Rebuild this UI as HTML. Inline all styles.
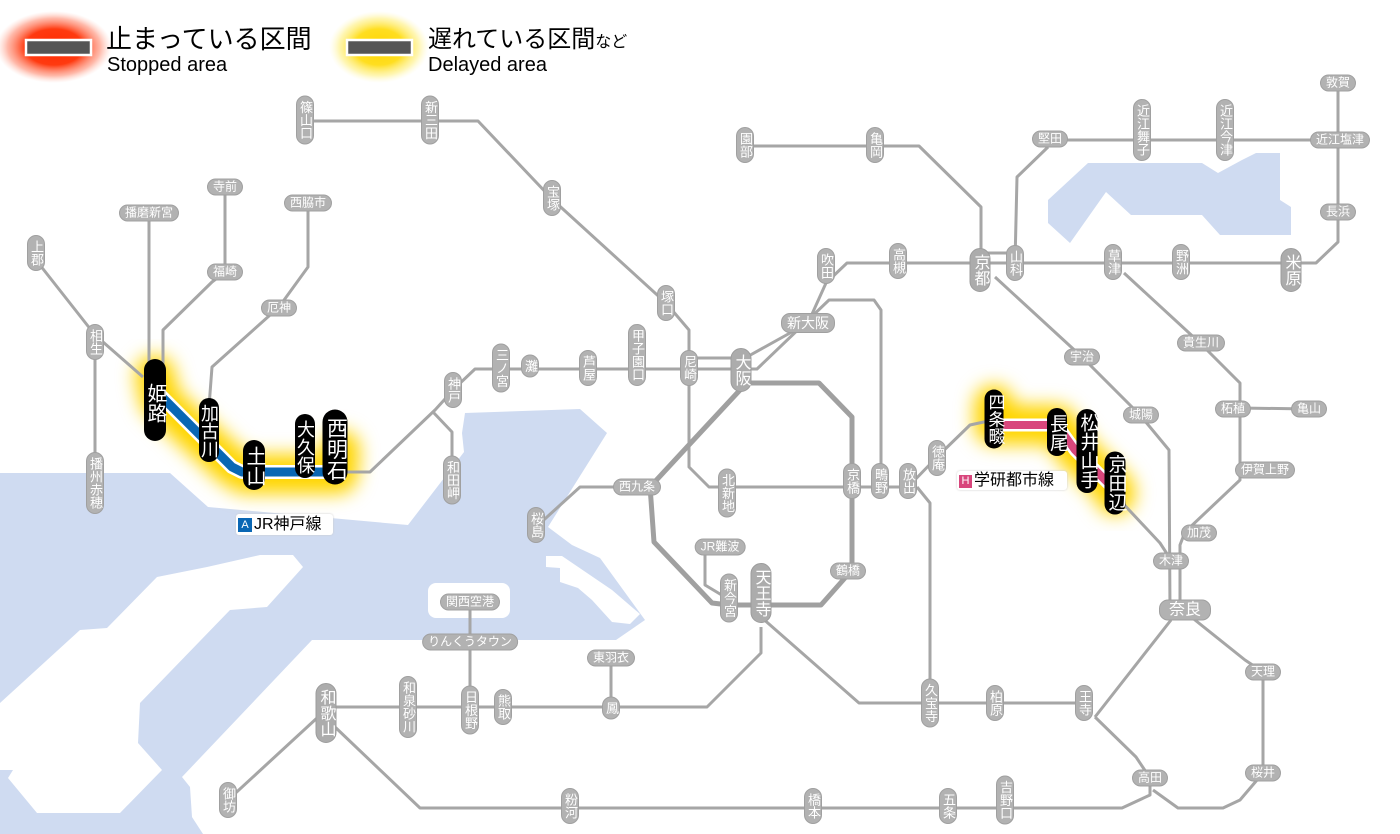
<!DOCTYPE html>
<html><head><meta charset="utf-8">
<style>
body{margin:0;background:#fff;}
#c{position:relative;width:1400px;height:834px;overflow:hidden;background:#fff;font-family:"Liberation Sans","Noto Sans CJK JP",sans-serif;}
svg{position:absolute;left:0;top:0;}
.v,.h,.b,.V{position:absolute;transform:translate(-50%,-50%);color:#fff;white-space:nowrap;}
.v{writing-mode:vertical-rl;background:#b2b2b2;border:1px solid #a0a0a0;border-radius:9px;font-size:13px;line-height:16px;padding:4px 0;width:16px;text-align:center;letter-spacing:0px;}
.V{writing-mode:vertical-rl;background:#acacac;border:1px solid #9c9c9c;border-radius:11px;font-size:16px;line-height:19px;padding:5px 0;width:19px;}
.h{background:#b2b2b2;border:1px solid #a0a0a0;border-radius:9px;font-size:12px;line-height:15px;padding:0 5px;}
.b{writing-mode:vertical-rl;background:#000;border-radius:13px;font-size:20px;line-height:22px;padding:20px 0 8px;width:22px;}
.lg{position:absolute;color:#000;}
</style></head><body><div id="c">
<svg width="1400" height="834" viewBox="0 0 1400 834">
<defs>
<radialGradient id="rg"><stop offset="0" stop-color="#ff2a00"/><stop offset="0.5" stop-color="#ff3a10"/><stop offset="0.8" stop-color="#ff8a70" stop-opacity="0.6"/><stop offset="1" stop-color="#ffc0b0" stop-opacity="0"/></radialGradient>
<radialGradient id="yg"><stop offset="0" stop-color="#ffd400"/><stop offset="0.5" stop-color="#ffde20"/><stop offset="0.8" stop-color="#fff080" stop-opacity="0.6"/><stop offset="1" stop-color="#fff8c0" stop-opacity="0"/></radialGradient>
<filter id="bl" x="-30%" y="-30%" width="160%" height="160%"><feGaussianBlur stdDeviation="9"/></filter>
</defs>
<g fill="#cfdbf1">
<polygon points="0,473 170,473 208,507 408,525 464,452 462,433 465,413 580,409 607,433 548,527 572,545 600,558 645,620 616,640 312,640 182,777 190,787 192,817 203,834 0,834"/>
<polygon points="1088,163 1202,163 1218,173 1242,160 1256,153 1280,153 1280,200 1291,207 1291,235 1220,235 1202,215 1131,215 1106,192 1070,243 1048,223 1048,200"/>
</g>
<g fill="#fff">
<polygon points="0,703 80,630 107,628 157,577 207,567 260,555 293,555 303,567 267,607 230,610 140,703 138,743 162,770 120,813 37,813 8,778 13,770 0,770"/>
<rect x="428" y="583" width="82" height="35" rx="8"/>
<polygon points="546,556 562,556 612,590 640,614 630,624 612,622 592,600 578,588 560,582 560,568 546,567"/>
</g>
<!-- glows -->
<ellipse cx="54" cy="47" rx="58" ry="36" fill="url(#rg)"/>
<ellipse cx="379" cy="47" rx="50" ry="36" fill="url(#yg)"/>
<g filter="url(#bl)" stroke="#ffd500" fill="none" stroke-linejoin="round" stroke-linecap="round">
<polyline points="155,375 160,400 230,465 245,474 338,474 340,450" stroke-width="40"/>
<polyline points="994,405 994,425 1057,425 1075,450 1115,490 1115,495" stroke-width="40"/>
</g>
<g stroke="#a6a6a6" stroke-width="3" fill="none" stroke-linejoin="round">
<polyline points="305,121 478,121 553,200 666,303 689,330 689,467 709,487 908,487"/>
<polyline points="690,358 745,358"/>
<polyline points="455,388 475,369 757,369 829,300 874,300 881,310 881,487"/>
<polyline points="745,358 808,323 826,283 847,263 1316,263 1338,242 1338,83"/>
<polyline points="455,388 435,410 370,472 340,472"/>
<polyline points="433,412 452,432 452,470"/>
<polyline points="36,260 95,335 143,377"/>
<polyline points="95,342 95,483"/>
<polyline points="149,213 149,380"/>
<polyline points="225,187 225,272 212,282 163,330 163,370"/>
<polyline points="308,203 308,267 279,307 212,367 208,420"/>
<polyline points="745,146 919,146 981,207 981,265"/>
<polyline points="1048,140 1338,140"/>
<polyline points="1048,147 1017,177 1015,263"/>
<polyline points="981,253 1015,253"/>
<polyline points="995,277 1082,357 1140,415 1169,450 1170,610"/>
<polyline points="1124,273 1200,343 1240,383 1240,480 1185,532 1180,545 1180,610"/>
<polyline points="1240,408 1309,409"/>
<polyline points="1185,612 1245,660 1263,672 1263,773 1240,800 1223,808 1178,808 1153,790"/>
<polyline points="1171,620 1095,717"/>
<polyline points="761,617 859,703 1084,703"/>
<polyline points="1095,717 1136,757 1150,778 1150,795 1122,808 420,808 335,727"/>
<polyline points="650,487 580,487 536,527"/>
<polyline points="705,555 705,585 725,597"/>
<polyline points="908,487 937,457 970,425 993,420"/>
<polyline points="917,487 930,503 930,703"/>
<polyline points="1115,495 1160,543 1171,560"/>
<polyline points="761,627 761,653 707,707 326,707"/>
<polyline points="611,657 611,707"/>
<polyline points="470,602 470,707"/>
<polyline points="317,718 228,800"/>
</g>
<g stroke="#a0a0a0" stroke-width="5" fill="none" stroke-linejoin="round">
<polyline points="747,383 819,383 852,417 852,570 821,605 729,605 712,603 654,542 651,500 650,487 700,433 740,390"/>
</g>
<g fill="none" stroke-linejoin="round">
<polyline points="160,395 232,467 242,472 335,472" stroke="#fff" stroke-width="14"/>
<polyline points="160,395 232,467 242,472 335,472" stroke="#0a67b4" stroke-width="9"/>
<polyline points="994,425 1057,425 1075,450 1115,490" stroke="#fff" stroke-width="13"/>
<polyline points="994,425 1057,425 1075,450 1115,490" stroke="#d8467c" stroke-width="8"/>
</g>
<rect x="26" y="40" width="65" height="15" fill="#555" stroke="#fff" stroke-width="2.5"/>
<rect x="347" y="40" width="65" height="15" fill="#555" stroke="#fff" stroke-width="2.5"/>
</svg>

<div class="lg" style="left:106px;top:24px;font-size:26px;line-height:30px;">止まっている区間</div>
<div class="lg" style="left:107px;top:54px;font-size:20px;line-height:22px;">Stopped area</div>
<div class="lg" style="left:428px;top:26px;font-size:24px;line-height:28px;">遅れている区間<span style="font-size:16px">など</span></div>
<div class="lg" style="left:428px;top:54px;font-size:20px;line-height:22px;">Delayed area</div>

<div class="lg" style="left:236px;top:514px;width:97px;height:21px;background:#fff;border-radius:3px;box-shadow:0 0 2px #ccc;font-size:16px;line-height:21px;"><span style="display:inline-block;width:14px;height:14px;background:#0a67b4;color:#fff;font-size:11px;line-height:14px;text-align:center;margin:0 2px 0 2px;vertical-align:1px;">A</span>JR神戸線</div>
<div class="lg" style="left:957px;top:471px;width:110px;height:19px;background:#fff;border-radius:3px;box-shadow:0 0 2px #ccc;font-size:16px;line-height:19px;"><span style="display:inline-block;width:13px;height:13px;background:#d8467c;color:#fff;font-size:11px;line-height:13px;text-align:center;margin:0 2px 0 2px;vertical-align:1px;">H</span>学研都市線</div>

<div class="v" style="left:305px;top:120px">篠山口</div>
<div class="v" style="left:430px;top:120px">新三田</div>
<div class="v" style="left:552px;top:198px">宝塚</div>
<div class="v" style="left:666px;top:303px">塚口</div>
<div class="v" style="left:689px;top:368px">尼崎</div>
<div class="v" style="left:637px;top:355px">甲子園口</div>
<div class="v" style="left:588px;top:368px">芦屋</div>
<div class="v" style="left:530px;top:366px">灘</div>
<div class="v" style="left:501px;top:368px">三ノ宮</div>
<div class="v" style="left:453px;top:390px">神戸</div>
<div class="v" style="left:452px;top:480px">和田岬</div>
<div class="v" style="left:36px;top:253px">上郡</div>
<div class="v" style="left:95px;top:342px">相生</div>
<div class="v" style="left:95px;top:483px">播州赤穂</div>
<div class="v" style="left:536px;top:525px">桜島</div>
<div class="v" style="left:727px;top:493px">北新地</div>
<div class="v" style="left:852px;top:481px">京橋</div>
<div class="v" style="left:880px;top:481px">鴫野</div>
<div class="v" style="left:908px;top:481px">放出</div>
<div class="v" style="left:937px;top:458px">徳庵</div>
<div class="v" style="left:729px;top:598px">新今宮</div>
<div class="V" style="left:761px;top:593px">天王寺</div>
<div class="v" style="left:930px;top:703px">久宝寺</div>
<div class="v" style="left:995px;top:703px">柏原</div>
<div class="v" style="left:1084px;top:703px">王寺</div>
<div class="v" style="left:1005px;top:800px">吉野口</div>
<div class="v" style="left:948px;top:806px">五条</div>
<div class="v" style="left:813px;top:806px">橋本</div>
<div class="v" style="left:570px;top:806px">粉河</div>
<div class="V" style="left:326px;top:713px">和歌山</div>
<div class="v" style="left:228px;top:800px">御坊</div>
<div class="v" style="left:408px;top:707px">和泉砂川</div>
<div class="v" style="left:470px;top:710px">日根野</div>
<div class="v" style="left:503px;top:707px">熊取</div>
<div class="v" style="left:611px;top:708px">鳳</div>
<div class="v" style="left:745px;top:145px">園部</div>
<div class="v" style="left:875px;top:145px">亀岡</div>
<div class="v" style="left:826px;top:266px">吹田</div>
<div class="v" style="left:898px;top:261px">高槻</div>
<div class="V" style="left:980px;top:270px">京都</div>
<div class="v" style="left:1015px;top:263px">山科</div>
<div class="v" style="left:1113px;top:262px">草津</div>
<div class="v" style="left:1181px;top:262px">野洲</div>
<div class="V" style="left:1291px;top:270px">米原</div>
<div class="v" style="left:1142px;top:130px">近江舞子</div>
<div class="v" style="left:1225px;top:130px">近江今津</div>
<div class="V" style="left:741px;top:370px">大阪</div>

<div class="h" style="left:149px;top:213px">播磨新宮</div>
<div class="h" style="left:225px;top:187px">寺前</div>
<div class="h" style="left:225px;top:272px">福崎</div>
<div class="h" style="left:308px;top:203px">西脇市</div>
<div class="h" style="left:279px;top:308px">厄神</div>
<div class="h" style="left:637px;top:487px">西九条</div>
<div class="h" style="left:808px;top:323px;font-size:14px;line-height:18px">新大阪</div>
<div class="h" style="left:1082px;top:357px">宇治</div>
<div class="h" style="left:1141px;top:415px">城陽</div>
<div class="h" style="left:1201px;top:343px">貴生川</div>
<div class="h" style="left:1233px;top:409px">柘植</div>
<div class="h" style="left:1309px;top:409px">亀山</div>
<div class="h" style="left:1265px;top:470px">伊賀上野</div>
<div class="h" style="left:1199px;top:533px">加茂</div>
<div class="h" style="left:1171px;top:561px">木津</div>
<div class="h" style="left:1185px;top:610px;font-size:16px;line-height:19px;padding:0 9px">奈良</div>
<div class="h" style="left:1263px;top:672px">天理</div>
<div class="h" style="left:1263px;top:773px">桜井</div>
<div class="h" style="left:1150px;top:778px">高田</div>
<div class="h" style="left:848px;top:571px">鶴橋</div>
<div class="h" style="left:720px;top:547px">JR難波</div>
<div class="h" style="left:611px;top:658px">東羽衣</div>
<div class="h" style="left:470px;top:642px">りんくうタウン</div>
<div class="h" style="left:470px;top:602px">関西空港</div>
<div class="h" style="left:1050px;top:139px">堅田</div>
<div class="h" style="left:1340px;top:140px">近江塩津</div>
<div class="h" style="left:1338px;top:83px">敦賀</div>
<div class="h" style="left:1338px;top:212px">長浜</div>

<div class="b" style="left:155px;top:400px;padding:24px 0 18px">姫路</div>
<div class="b" style="left:209px;top:430px;width:20px;font-size:18px;line-height:20px;padding:6px 0 4px">加古川</div>
<div class="b" style="left:254px;top:465px;padding:6px 0 4px">土山</div>
<div class="b" style="left:305px;top:446px;width:20px;font-size:18px;line-height:20px;padding:6px 0 4px">大久保</div>
<div class="b" style="left:335px;top:447px;width:25px;font-size:21px;line-height:23px;padding:8px 0 4px">西明石</div>
<div class="b" style="left:994px;top:419px;width:19px;font-size:17px;line-height:18px;padding:4px 0 4px">四条畷</div>
<div class="b" style="left:1057px;top:432px;width:20px;font-size:19px;line-height:20px;padding:6px 0 4px">長尾</div>
<div class="b" style="left:1087px;top:451px;width:21px;font-size:19px;line-height:20px;padding:4px 0 4px">松井山手</div>
<div class="b" style="left:1115px;top:483px;width:21px;font-size:19px;line-height:20px;padding:3px 0 3px">京田辺</div>
</div></body></html>
